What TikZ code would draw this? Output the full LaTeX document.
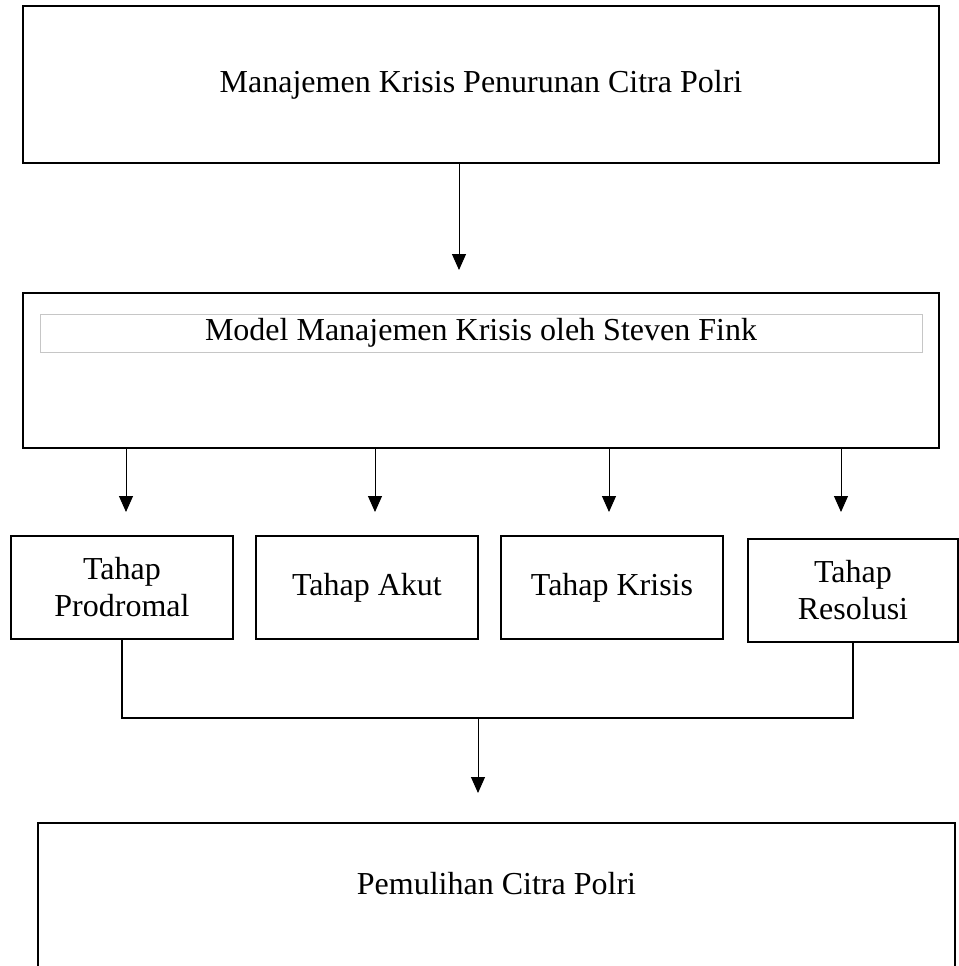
\documentclass[tikz,border=0pt]{standalone}
\usepackage{fontspec}
\setmainfont{Liberation Serif}
\usetikzlibrary{arrows.meta}
\tikzset{
	kotak/.style={draw, line width=1pt, inner sep=0pt, align=center, font=\fontsize{16}{18.5}\selectfont},
	tahap/.style={kotak, minimum width=111pt, minimum height=51.5pt},
	panah/.style={line width=0.5pt, -{Triangle[width=7pt,length=8pt]}},
	kurung/.style={line width=1pt}
}
\begin{document}
\begin{tikzpicture}[x=0.5pt, y=-0.5pt]
	\useasboundingbox (0,0) rectangle (959,966);
	\clip (0,0) rectangle (959,966);
	% kotak atas
	\node [kotak, minimum width=458pt, minimum height=78.5pt] (atas) at (481,84.5) {Manajemen Krisis Penurunan Citra Polri};
	% kotak model, dengan judul dalam kotak abu-abu
	\node [kotak, minimum width=458pt, minimum height=77.5pt] (model) at (481,370.5) {};
	\node [kotak, draw=gray!45, line width=0.5pt, minimum width=441pt, minimum height=19pt] (judul) at (481,333) {Model Manajemen Krisis oleh Steven Fink};
	\draw [panah, shorten >=11pt] (atas.south -| 459,0) -- (model.north -| 459,0);
	% empat tahap
	\node [tahap] (prodromal) at (122,587.5) {Tahap\\Prodromal};
	\node [tahap] (akut) at (367,587.5) {Tahap Akut};
	\node [tahap] (krisis) at (612,587.5) {Tahap Krisis};
	\node [tahap, minimum width=105pt] (resolusi) at (853,590.5) {Tahap\\Resolusi};
	\draw [panah, shorten >=11.5pt] (model.south -| 126,0) -- (prodromal.north -| 126,0);
	\draw [panah, shorten >=11.5pt] (model.south -| 375,0) -- (akut.north -| 375,0);
	\draw [panah, shorten >=11.5pt] (model.south -| 609,0) -- (krisis.north -| 609,0);
	\draw [panah, shorten >=13pt] (model.south -| 841,0) -- (resolusi.north -| 841,0);
	% penggabung dan kotak bawah
	\coordinate (gabung) at (478,718);
	\draw [kurung] (prodromal.south) |- (gabung) -| (resolusi.south);
	\node [kotak, anchor=north, minimum width=458.5pt, text height=35.5pt, text depth=100pt] (pemulihan) at (496.5,822) {Pemulihan Citra Polri};
	\draw [panah, shorten >=14.5pt] (gabung) -- (pemulihan.north -| gabung);
\end{tikzpicture}
\end{document}
